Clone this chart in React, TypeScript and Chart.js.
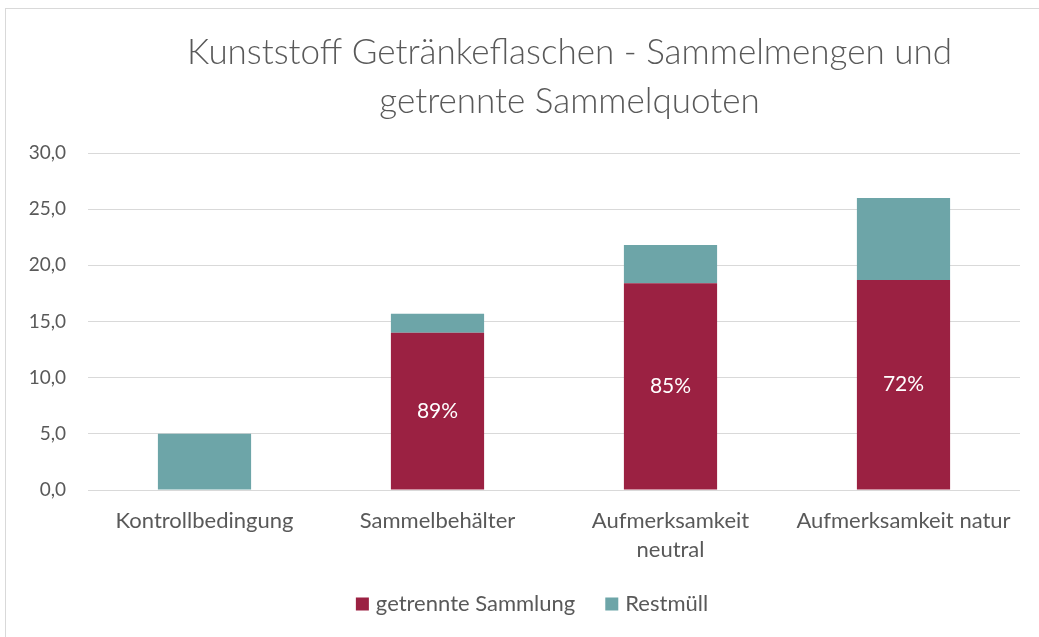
import React, { useEffect, useRef } from "react";
import { Chart, registerables } from "chart.js";

Chart.register(...registerables);

const categories: (string | string[])[] = [
  "Kontrollbedingung",
  "Sammelbehälter",
  ["Aufmerksamkeit", "neutral"],
  "Aufmerksamkeit natur",
];
const getrennteSammlung = [0, 14.0, 18.4, 18.7];
const restmuell = [5.0, 1.7, 3.4, 7.3];
const sammelquoten = ["", "89%", "85%", "72%"];
const titleLines = ["Kunststoff Getränkeflaschen - Sammelmengen und", "getrennte Sammelquoten"];
const seriesNames = ["getrennte Sammlung", "Restmüll"];

const RED = "#9B2142";
const TEAL = "#6DA5A8";
const TEXT = "#595959";
const FONT = "Lato, 'Open Sans', sans-serif";

export default function App() {
  const ref = useRef<HTMLCanvasElement | null>(null);

  useEffect(() => {
    if (!ref.current) return;

    const overlay = {
      id: "overlay",
      afterDatasetsDraw(chart: any) {
        const ctx = chart.ctx;
        ctx.save();
        const meta = chart.getDatasetMeta(0);
        ctx.fillStyle = "#ffffff";
        ctx.font = `21px ${FONT}`;
        ctx.textAlign = "center";
        ctx.textBaseline = "middle";
        meta.data.forEach((el: any, i: number) => {
          const t = sammelquoten[i];
          if (!t) return;
          ctx.fillText(t, el.x, (el.y + el.base) / 2);
        });
        ctx.restore();
      },
      afterDraw(chart: any) {
        const ctx = chart.ctx;
        ctx.save();
        ctx.fillStyle = TEXT;
        ctx.font = `300 35px ${FONT}`;
        ctx.textAlign = "center";
        ctx.textBaseline = "middle";
        ctx.fillText(titleLines[0], 563.5, 44);
        ctx.fillText(titleLines[1], 563.5, 93);
        ctx.font = `22px ${FONT}`;
        const colors = [RED, TEAL];
        const box = 13;
        const gapText = 7;
        const gapItem = 30;
        const widths = seriesNames.map((n) => ctx.measureText(n).width);
        const total = widths.reduce((a, w) => a + box + gapText + w, 0) + gapItem;
        let x = 526 - total / 2;
        const y = 595;
        ctx.textAlign = "left";
        seriesNames.forEach((n, i) => {
          ctx.fillStyle = colors[i];
          ctx.fillRect(x, y - box / 2, box, box);
          x += box + gapText;
          ctx.fillStyle = TEXT;
          ctx.fillText(n, x, y);
          x += widths[i] + gapItem;
        });
        ctx.restore();
      },
    };

    const chart = new Chart(ref.current, {
      type: "bar",
      data: {
        labels: categories,
        datasets: [
          {
            label: seriesNames[0],
            data: getrennteSammlung,
            backgroundColor: RED,
            borderWidth: 0,
            categoryPercentage: 1,
            barPercentage: 0.4,
          },
          {
            label: seriesNames[1],
            data: restmuell,
            backgroundColor: TEAL,
            borderWidth: 0,
            categoryPercentage: 1,
            barPercentage: 0.4,
          },
        ],
      },
      options: {
        animation: false,
        responsive: false,
        layout: { padding: { left: 0, top: 144, right: 19, bottom: 0 } },
        plugins: {
          legend: { display: false },
          title: { display: false },
          tooltip: { enabled: false },
        },
        scales: {
          x: {
            stacked: true,
            grid: { display: false, drawTicks: false },
            border: { display: false },
            ticks: {
              color: TEXT,
              font: { family: FONT, size: 22, lineHeight: 1.3 },
              padding: 17,
              maxRotation: 0,
              autoSkip: false,
            },
            afterFit: (s: any) => {
              s.height = 147;
            },
          },
          y: {
            stacked: true,
            min: 0,
            max: 30,
            grid: { color: "#d9d9d9", lineWidth: 1, drawTicks: false },
            border: { display: false },
            ticks: {
              stepSize: 5,
              color: TEXT,
              font: { family: FONT, size: 19 },
              padding: 22,
              callback: (v: any) => Number(v).toFixed(1).replace(".", ","),
            },
            afterFit: (s: any) => {
              s.width = 82;
            },
          },
        },
      },
      plugins: [overlay],
    });
    return () => chart.destroy();
  }, []);

  return (
    <div
      style={{
        position: "absolute",
        left: 5,
        top: 8,
        width: 1034,
        height: 629,
        borderLeft: "1px solid #d9d9d9",
        borderTop: "1px solid #d9d9d9",
        background: "#fff",
        overflow: "hidden",
      }}
    >
      <canvas ref={ref} width={1033} height={628} style={{ display: "block" }} />
    </div>
  );
}
